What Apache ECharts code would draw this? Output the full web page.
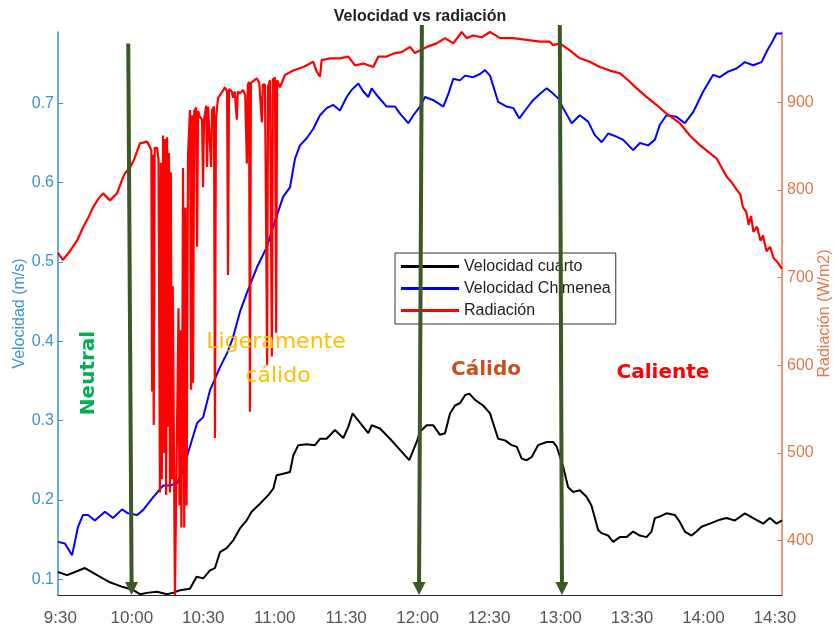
<!DOCTYPE html>
<html>
<head>
<meta charset="utf-8">
<script src="https://cdn.jsdelivr.net/npm/echarts@6/dist/echarts.min.js"></script>
<style>
  html, body { margin: 0; padding: 0; background: #fff; }
  #chart { width: 833px; height: 631px; }
</style>
</head>
<body>
<div id="chart"></div>
<script>
// Time is kept in minutes after midnight (9:30 = 570).

// Velocidad cuarto (m/s)
const tCuarto = [569, 572.8, 576.1, 580.3, 585.4, 590.8, 596.3, 600.1, 603.4, 607, 610.6, 614.8, 617.5, 620.2,
  624.4, 627.2, 630, 632.8, 634.9, 637, 639.8, 642.6, 645.4, 648.2, 650.3, 653.8, 657.3, 659.4, 660.8,
  663.6, 666.4, 667.8, 669.9, 673.4, 676.9, 679, 681.8, 685.3, 688.8, 690.9, 692.7, 695.1, 699.3, 700.7,
  704.2, 708.4, 712.6, 716.5, 719.6, 721, 723.8, 726.6, 729.4, 731.5, 733.6, 735.7, 737.8, 739.9, 741.7,
  744.1, 747.5, 750.4, 753.8, 756.7, 759.5, 761.6, 763.7, 765.8, 767.9, 770.6, 774.2, 776.9, 778.4, 781.1,
  783.2, 785.3, 788.1, 790.9, 793, 795.8, 797.2, 800, 802.1, 804.9, 807.7, 810.5, 813.3, 816.1, 818.2,
  819.6, 821.7, 824.5, 828, 830.1, 832.2, 835, 837.1, 839.2, 842.7, 846.9, 849.7, 853.2, 857.4, 860.9,
  865.1, 867.9, 870.7, 873];
const velCuarto = [0.109, 0.105, 0.109, 0.114, 0.105, 0.096, 0.090, 0.087, 0.081, 0.083, 0.084, 0.081, 0.083, 0.086,
  0.088, 0.103, 0.101, 0.111, 0.114, 0.134, 0.139, 0.149, 0.164, 0.174, 0.185, 0.195, 0.206, 0.214, 0.231,
  0.233, 0.235, 0.256, 0.269, 0.270, 0.269, 0.277, 0.277, 0.288, 0.278, 0.292, 0.309, 0.300, 0.284, 0.294,
  0.290, 0.277, 0.263, 0.250, 0.273, 0.286, 0.294, 0.294, 0.282, 0.284, 0.309, 0.319, 0.322, 0.332, 0.334,
  0.326, 0.319, 0.309, 0.277, 0.275, 0.269, 0.267, 0.252, 0.250, 0.254, 0.269, 0.273, 0.273, 0.267, 0.242,
  0.216, 0.210, 0.212, 0.204, 0.193, 0.162, 0.158, 0.155, 0.147, 0.153, 0.153, 0.160, 0.155, 0.153, 0.160,
  0.177, 0.179, 0.183, 0.181, 0.172, 0.160, 0.155, 0.160, 0.166, 0.170, 0.175, 0.177, 0.174, 0.183, 0.177,
  0.170, 0.177, 0.170, 0.174];

// Velocidad Chimenea (m/s)
const tChimenea = [569, 571.9, 574.9, 577.4, 579.5, 581.6, 584.5, 588.7, 592.1, 595.9, 598.4, 602.2, 604.7, 608.9,
  613.1, 616, 619, 621.1, 623.6, 627.4, 629.9, 632.8, 637, 640, 642.5, 645.4, 648.3, 652.5, 656.7, 659.3,
  663.5, 666.4, 668.5, 670.6, 673.4, 676.2, 679, 681.8, 684.6, 687.4, 690.2, 692.3, 695.1, 697.2, 699.3,
  700.7, 703.5, 707, 710.5, 712.6, 716.1, 718.2, 721, 723.1, 726.6, 730.8, 732.9, 735, 737.8, 739.9, 743.4,
  746.2, 748.3, 750.4, 753.8, 757.4, 760.2, 762.7, 765.1, 768.5, 771.4, 774.2, 777, 779.1, 781.1, 784.7,
  788.1, 791.6, 794.4, 797.3, 800, 803.5, 806.3, 810.5, 813.3, 816.8, 819.6, 821.7, 824.5, 828.7, 832.2,
  835.7, 839.9, 844.1, 846.9, 850.4, 853.9, 857.4, 860.9, 864.4, 866.5, 868.6, 870.7, 873];
const velChimenea = [0.147, 0.145, 0.130, 0.166, 0.181, 0.181, 0.174, 0.185, 0.177, 0.188, 0.183, 0.181, 0.187, 0.203,
  0.218, 0.218, 0.221, 0.234, 0.259, 0.297, 0.304, 0.338, 0.367, 0.385, 0.405, 0.437, 0.461, 0.493, 0.519, 0.544,
  0.582, 0.594, 0.630, 0.647, 0.656, 0.668, 0.685, 0.694, 0.698, 0.691, 0.708, 0.717, 0.725, 0.715, 0.708,
  0.719, 0.708, 0.696, 0.696, 0.687, 0.675, 0.685, 0.696, 0.708, 0.704, 0.696, 0.712, 0.731, 0.729, 0.735, 0.733,
  0.737, 0.742, 0.735, 0.702, 0.696, 0.694, 0.681, 0.691, 0.704, 0.712, 0.719, 0.712, 0.706, 0.694, 0.675,
  0.685, 0.677, 0.660, 0.651, 0.662, 0.658, 0.654, 0.641, 0.650, 0.647, 0.654, 0.673, 0.685, 0.683, 0.675,
  0.689, 0.715, 0.736, 0.733, 0.740, 0.744, 0.752, 0.748, 0.752, 0.765, 0.776, 0.788, 0.788];

// Radiación (W/m2)
const tRad = [569, 571, 574, 577, 579.5, 582, 583.7, 586, 587.9, 590.8, 593.8, 596, 597.1, 599.2, 601, 603.4, 606.4,
  607.6, 608.2, 608.5, 608.8, 609.2, 609.6, 610.6, 611.2, 611.8, 612.2, 612.6, 613.1, 613.6, 614, 614.4, 614.8,
  615.2, 615.6, 616, 616.4, 616.8, 617.2, 618.1, 619.6, 620, 620.4, 620.8, 621.2, 621.5, 622, 622.5, 623,
  623.6, 624.4, 624.9, 625.3, 625.7, 626.2, 627, 627.4, 627.8, 628.6, 629.5, 629.9, 630.3, 631.2, 631.6, 632,
  632.8, 633.3, 633.7, 634.5, 634.9, 635.3, 636.2, 637, 638, 639.1, 640, 640.4, 640.8, 642, 642.5, 643.2, 644.1,
  644.5, 645.4, 646.7, 647.6, 648.3, 648.7, 649.2, 649.6, 650, 650.4, 651.5, 652.5, 653.5, 654.3, 654.6, 655,
  655.9, 656.4, 656.8, 657.2, 658, 658.8, 659.2, 660.1, 660.6, 661,
  662.2, 664.3, 667.8, 672, 676.2, 677.6, 679, 679.7, 683.2, 687.4, 690.9, 693.7, 697.2, 701.4, 703.5, 707,
  710.5, 713.3, 716.8, 718.9, 721, 723.8, 728, 731.5, 735, 738.5, 740.6, 743.4, 746.9, 750.4, 754.6, 760.2,
  765.8, 771.4, 775.5, 776.9, 779.7, 783.9, 788.1, 792.3, 796.5, 800.7, 804.9, 808.4, 811.9, 816.1, 820.3,
  824.5, 830.1, 834.3, 838.5, 842.7, 845.5, 849.8, 852, 854, 855.5, 856.6, 858, 859, 860, 861, 862.5, 864,
  865, 866.5, 868, 869.5, 871, 873];
const radiacion = [728, 720, 730, 742, 757, 770, 780, 790, 796, 788, 796, 812, 819, 825, 835, 853, 855,
  849, 845, 570, 840, 532, 848, 848, 835, 455, 831, 470, 862, 500, 858, 452, 860,
  530, 842, 455, 820, 470, 690, 338, 665, 440, 640, 415, 600, 825, 415, 780, 440,
  840, 891, 572, 885, 580, 890, 894, 735, 890, 883, 880, 803, 879, 896, 826, 895,
  896, 826, 891, 895, 517, 880, 905, 908, 912, 917, 912, 703, 915, 912, 905, 912, 880,
  912, 910, 914, 908, 830, 920, 923, 547, 922, 923, 925, 927, 922, 921, 877, 920,
  920, 754, 600, 918, 925, 610, 926, 928, 637, 925,
  917, 931, 936, 940, 946, 935, 929, 948, 950, 950, 952, 942, 944, 940, 952, 952,
  956, 957, 963, 956, 959, 963, 967, 973, 967, 980, 973, 976, 974, 980, 973, 973,
  971, 969, 969, 965, 967, 959, 950, 946, 940, 936, 933, 925, 916, 906, 897,
  887, 876, 862, 851, 842, 836, 815, 808, 800, 795, 780, 775, 760, 770, 752, 758, 742,
  748, 730, 735, 722, 718, 710];

// Zone boundaries (green arrows): time at the top, time at the tip, radiation level at the top
const arrowTop = [598.5, 721.8, 779.7];
const arrowBottom = [599.9, 720.6, 780.6];
const arrowTopRad = [967, 988, 988];

// Axis ticks
const xTicks = [570, 600, 630, 660, 690, 720, 750, 780, 810, 840, 870];
const velTicks = [0.1, 0.2, 0.3, 0.4, 0.5, 0.6, 0.7];
const radTicks = [400, 500, 600, 700, 800, 900];

const pairs = (ts, vs) => ts.map((t, i) => [t, vs[i]]);
const fmtTime = m => Math.floor(m / 60) + ':' + String(Math.round(m % 60)).padStart(2, '0');

const AX_FONT = 'Liberation Sans, Arial, sans-serif';
const VEL_COLOR = '#3A93D0';
const RAD_COLOR = '#E0784A';
const ARROW_COLOR = '#3A5A23';
const RAD_MIN = 338;

const chart = echarts.init(document.getElementById('chart'));
chart.setOption({
  animation: false,
  backgroundColor: '#fff',
  title: {
    text: 'Velocidad vs radiación',
    left: 420, top: 9, padding: 0, textAlign: 'center',
    textStyle: { fontFamily: AX_FONT, fontSize: 16, fontWeight: 'bold', color: '#222' }
  },
  legend: {
    data: ['Velocidad cuarto', 'Velocidad Chimenea', 'Radiación'],
    orient: 'vertical', left: 395, top: 253,
    padding: [4, 5, 4, 6], itemGap: 3, itemWidth: 58, itemHeight: 3,
    icon: 'rect',
    borderColor: '#333', borderWidth: 1, backgroundColor: '#fff',
    textStyle: { fontFamily: AX_FONT, fontSize: 16, color: '#222', lineHeight: 19 }
  },
  grid: { left: 58, right: 51, top: 32, bottom: 36, containLabel: false, outerBoundsMode: 'none' },
  xAxis: {
    type: 'value', min: 569, max: 873,
    axisLine: { show: true, lineStyle: { color: '#333', width: 1 } },
    axisTick: { show: false },
    splitLine: { show: false },
    axisLabel: {
      customValues: xTicks, formatter: v => fmtTime(v), margin: 15,
      fontFamily: AX_FONT, fontSize: 17, color: '#555'
    }
  },
  yAxis: [{
    type: 'value', min: 0.08, max: 0.79, position: 'left',
    name: 'Velocidad (m/s)', nameLocation: 'middle', nameGap: 30, nameMoveOverlap: false,
    nameTextStyle: { fontFamily: AX_FONT, fontSize: 16, color: VEL_COLOR },
    axisLine: { show: true, lineStyle: { color: VEL_COLOR, width: 1.5 } },
    axisTick: { show: true, inside: true, length: 5, customValues: velTicks, lineStyle: { color: VEL_COLOR } },
    splitLine: { show: false },
    axisLabel: {
      customValues: velTicks, formatter: v => v.toFixed(1), margin: 4,
      fontFamily: AX_FONT, fontSize: 16, color: VEL_COLOR
    }
  }, {
    type: 'value', min: RAD_MIN, max: 980, position: 'right',
    name: 'Radiación (W/m2)', nameLocation: 'middle', nameGap: 35, nameRotate: 90, nameMoveOverlap: false,
    nameTextStyle: { fontFamily: AX_FONT, fontSize: 16, color: RAD_COLOR },
    axisLine: { show: true, lineStyle: { color: RAD_COLOR, width: 1.5 } },
    axisTick: { show: true, inside: true, length: 5, customValues: radTicks, lineStyle: { color: RAD_COLOR } },
    splitLine: { show: false },
    axisLabel: {
      customValues: radTicks, margin: 5,
      fontFamily: AX_FONT, fontSize: 16, color: RAD_COLOR
    }
  }],
  series: [{
    name: 'Velocidad cuarto', type: 'line', yAxisIndex: 0,
    data: pairs(tCuarto, velCuarto), showSymbol: false,
    lineStyle: { color: '#000', width: 2 }, itemStyle: { color: '#000' }, z: 2
  }, {
    name: 'Velocidad Chimenea', type: 'line', yAxisIndex: 0,
    data: pairs(tChimenea, velChimenea), showSymbol: false,
    lineStyle: { color: '#0000FF', width: 2 }, itemStyle: { color: '#0000FF' }, z: 3
  }, {
    name: 'Radiación', type: 'line', yAxisIndex: 1,
    data: pairs(tRad, radiacion), showSymbol: false,
    lineStyle: { color: '#FF0000', width: 2.2 }, itemStyle: { color: '#FF0000' }, z: 4
  }, {
    // Vertical arrows marking the comfort zone boundaries
    name: 'zonas', type: 'custom', yAxisIndex: 1, z: 6, clip: false, silent: true,
    data: arrowTop.map((t, i) => [t, arrowBottom[i], arrowTopRad[i]]),
    encode: { x: [0, 1], y: 2 },
    renderItem: (params, api) => {
      const top = api.coord([api.value(0), api.value(2)]);
      const tip = api.coord([api.value(1), RAD_MIN]);
      const hw = 6.5, hl = 13;
      return {
        type: 'group',
        children: [{
          type: 'line',
          shape: { x1: top[0], y1: top[1], x2: tip[0], y2: tip[1] - hl + 1 },
          style: { stroke: ARROW_COLOR, lineWidth: 4 }
        }, {
          type: 'polygon',
          shape: { points: [[tip[0] - hw, tip[1] - hl], [tip[0] + hw, tip[1] - hl], [tip[0], tip[1]]] },
          style: { fill: ARROW_COLOR }
        }]
      };
    }
  }],
  graphic: [
    { type: 'text', x: 89, y: 373, rotation: Math.PI / 2, z: 10,
      style: { text: 'Neutral', fill: '#00B050', font: 'bold 20px "DejaVu Sans", sans-serif', align: 'center', verticalAlign: 'middle' } },
    { type: 'text', x: 276, y: 342, z: 10,
      style: { text: 'Ligeramente', fill: '#FFC000', font: '22px "DejaVu Sans", sans-serif', align: 'center', verticalAlign: 'middle' } },
    { type: 'text', x: 278, y: 376, z: 10,
      style: { text: 'cálido', fill: '#FFC000', font: '22px "DejaVu Sans", sans-serif', align: 'center', verticalAlign: 'middle' } },
    { type: 'text', x: 486, y: 370, z: 10,
      style: { text: 'Cálido', fill: '#C9501C', font: 'bold 20px "DejaVu Sans", sans-serif', align: 'center', verticalAlign: 'middle' } },
    { type: 'text', x: 663, y: 373, z: 10,
      style: { text: 'Caliente', fill: '#FF0000', font: 'bold 20px "DejaVu Sans", sans-serif', align: 'center', verticalAlign: 'middle' } }
  ]
});
</script>
</body>
</html>
